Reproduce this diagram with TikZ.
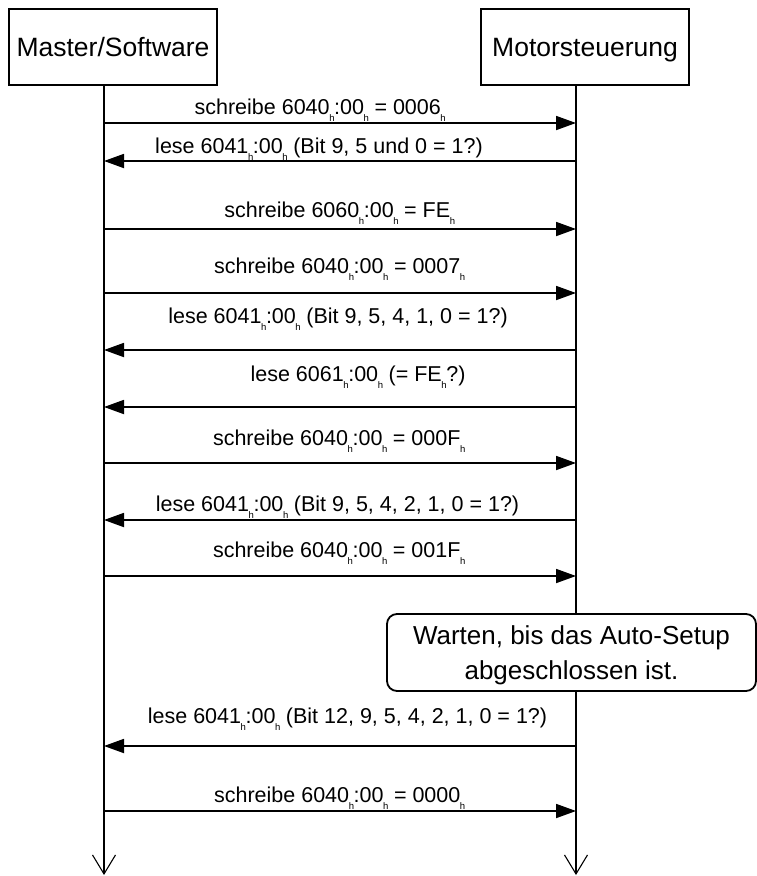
\documentclass[tikz,border=0pt]{standalone}
\usepackage{fontspec}
\setmainfont{Liberation Sans}
\usetikzlibrary{arrows.meta}
\newcommand\hsub{\kern-0.4pt\raisebox{-7.5pt}{\fontsize{9.5}{9.5}\selectfont h}\kern-0.4pt}
\begin{document}
\begin{tikzpicture}[x=1pt,y=-1pt,
  actor/.style={draw, line width=1.8pt, minimum width=208pt, minimum height=76pt, inner sep=0pt, text height=19pt, text depth=0pt, font=\fontsize{26.5}{30}\selectfont},
  life/.style={line width=1.8pt, -{Straight Barb[length=19pt,width=23pt,line width=1.1pt]}},
  msg/.style={line width=1.8pt, -{Triangle[length=20pt,width=14pt]}},
  lbl/.style={anchor=base, inner sep=0pt, font=\fontsize{21.5}{25}\selectfont},
  notebox/.style={draw, fill=white, line width=1.8pt, rounded corners=10pt, minimum width=369pt, minimum height=77pt, inner sep=0pt, align=center, text depth=0pt, font=\fontsize{26}{35}\selectfont}]
\useasboundingbox (0,0) rectangle (757,876);
% actors
\node[actor] (ms) at (113,47) {Master/Software};
\node[actor] (mc) at (585,47) {Motorsteuerung};
\coordinate (lend) at (104,875);
\coordinate (rend) at (576,875);
\draw[life] (ms.south -| lend) -- (lend);
\draw[life] (mc.south -| rend) -- (rend);
% message end points
\foreach \i/\y in {1/123,2/161,3/229,4/293,5/350,6/407,7/463,8/520,9/576,11/746,12/811}{
  \coordinate (L\i) at (104,\y);
  \coordinate (R\i) at (576,\y);
}
\draw[msg] (L1) -- (R1);
\node[lbl] (t1) at (320,114) {schreibe 6040\hsub:00\hsub{} = 0006\hsub};
\draw[msg] (R2) -- (L2);
\node[lbl] (t2) at (319,153) {lese 6041\hsub:00\hsub{} (Bit 9, 5 und 0 = 1?)};
\draw[msg] (L3) -- (R3);
\node[lbl] (t3) at (339.5,217) {schreibe 6060\hsub:00\hsub{} = FE\hsub};
\draw[msg] (L4) -- (R4);
\node[lbl] (t4) at (339.5,273) {schreibe 6040\hsub:00\hsub{} = 0007\hsub};
\draw[msg] (R5) -- (L5);
\node[lbl] (t5) at (338,323) {lese 6041\hsub:00\hsub{} (Bit 9, 5, 4, 1, 0 = 1?)};
\draw[msg] (R6) -- (L6);
\node[lbl] (t6) at (358,381) {lese 6061\hsub:00\hsub{} (= FE\hsub?)};
\draw[msg] (L7) -- (R7);
\node[lbl] (t7) at (339,445) {schreibe 6040\hsub:00\hsub{} = 000F\hsub};
\draw[msg] (R8) -- (L8);
\node[lbl] (t8) at (337.5,511) {lese 6041\hsub:00\hsub{} (Bit 9, 5, 4, 2, 1, 0 = 1?)};
\draw[msg] (L9) -- (R9);
\node[lbl] (t9) at (339,557) {schreibe 6040\hsub:00\hsub{} = 001F\hsub};
% note
\node[notebox] (note) at (571.5,652.5) {Warten, bis das Auto-Setup\\abgeschlossen ist.};
\draw[msg] (R11) -- (L11);
\node[lbl] (t11) at (347.5,723) {lese 6041\hsub:00\hsub{} (Bit 12, 9, 5, 4, 2, 1, 0 = 1?)};
\draw[msg] (L12) -- (R12);
\node[lbl] (t12) at (339.5,802) {schreibe 6040\hsub:00\hsub{} = 0000\hsub};
\end{tikzpicture}
\end{document}
